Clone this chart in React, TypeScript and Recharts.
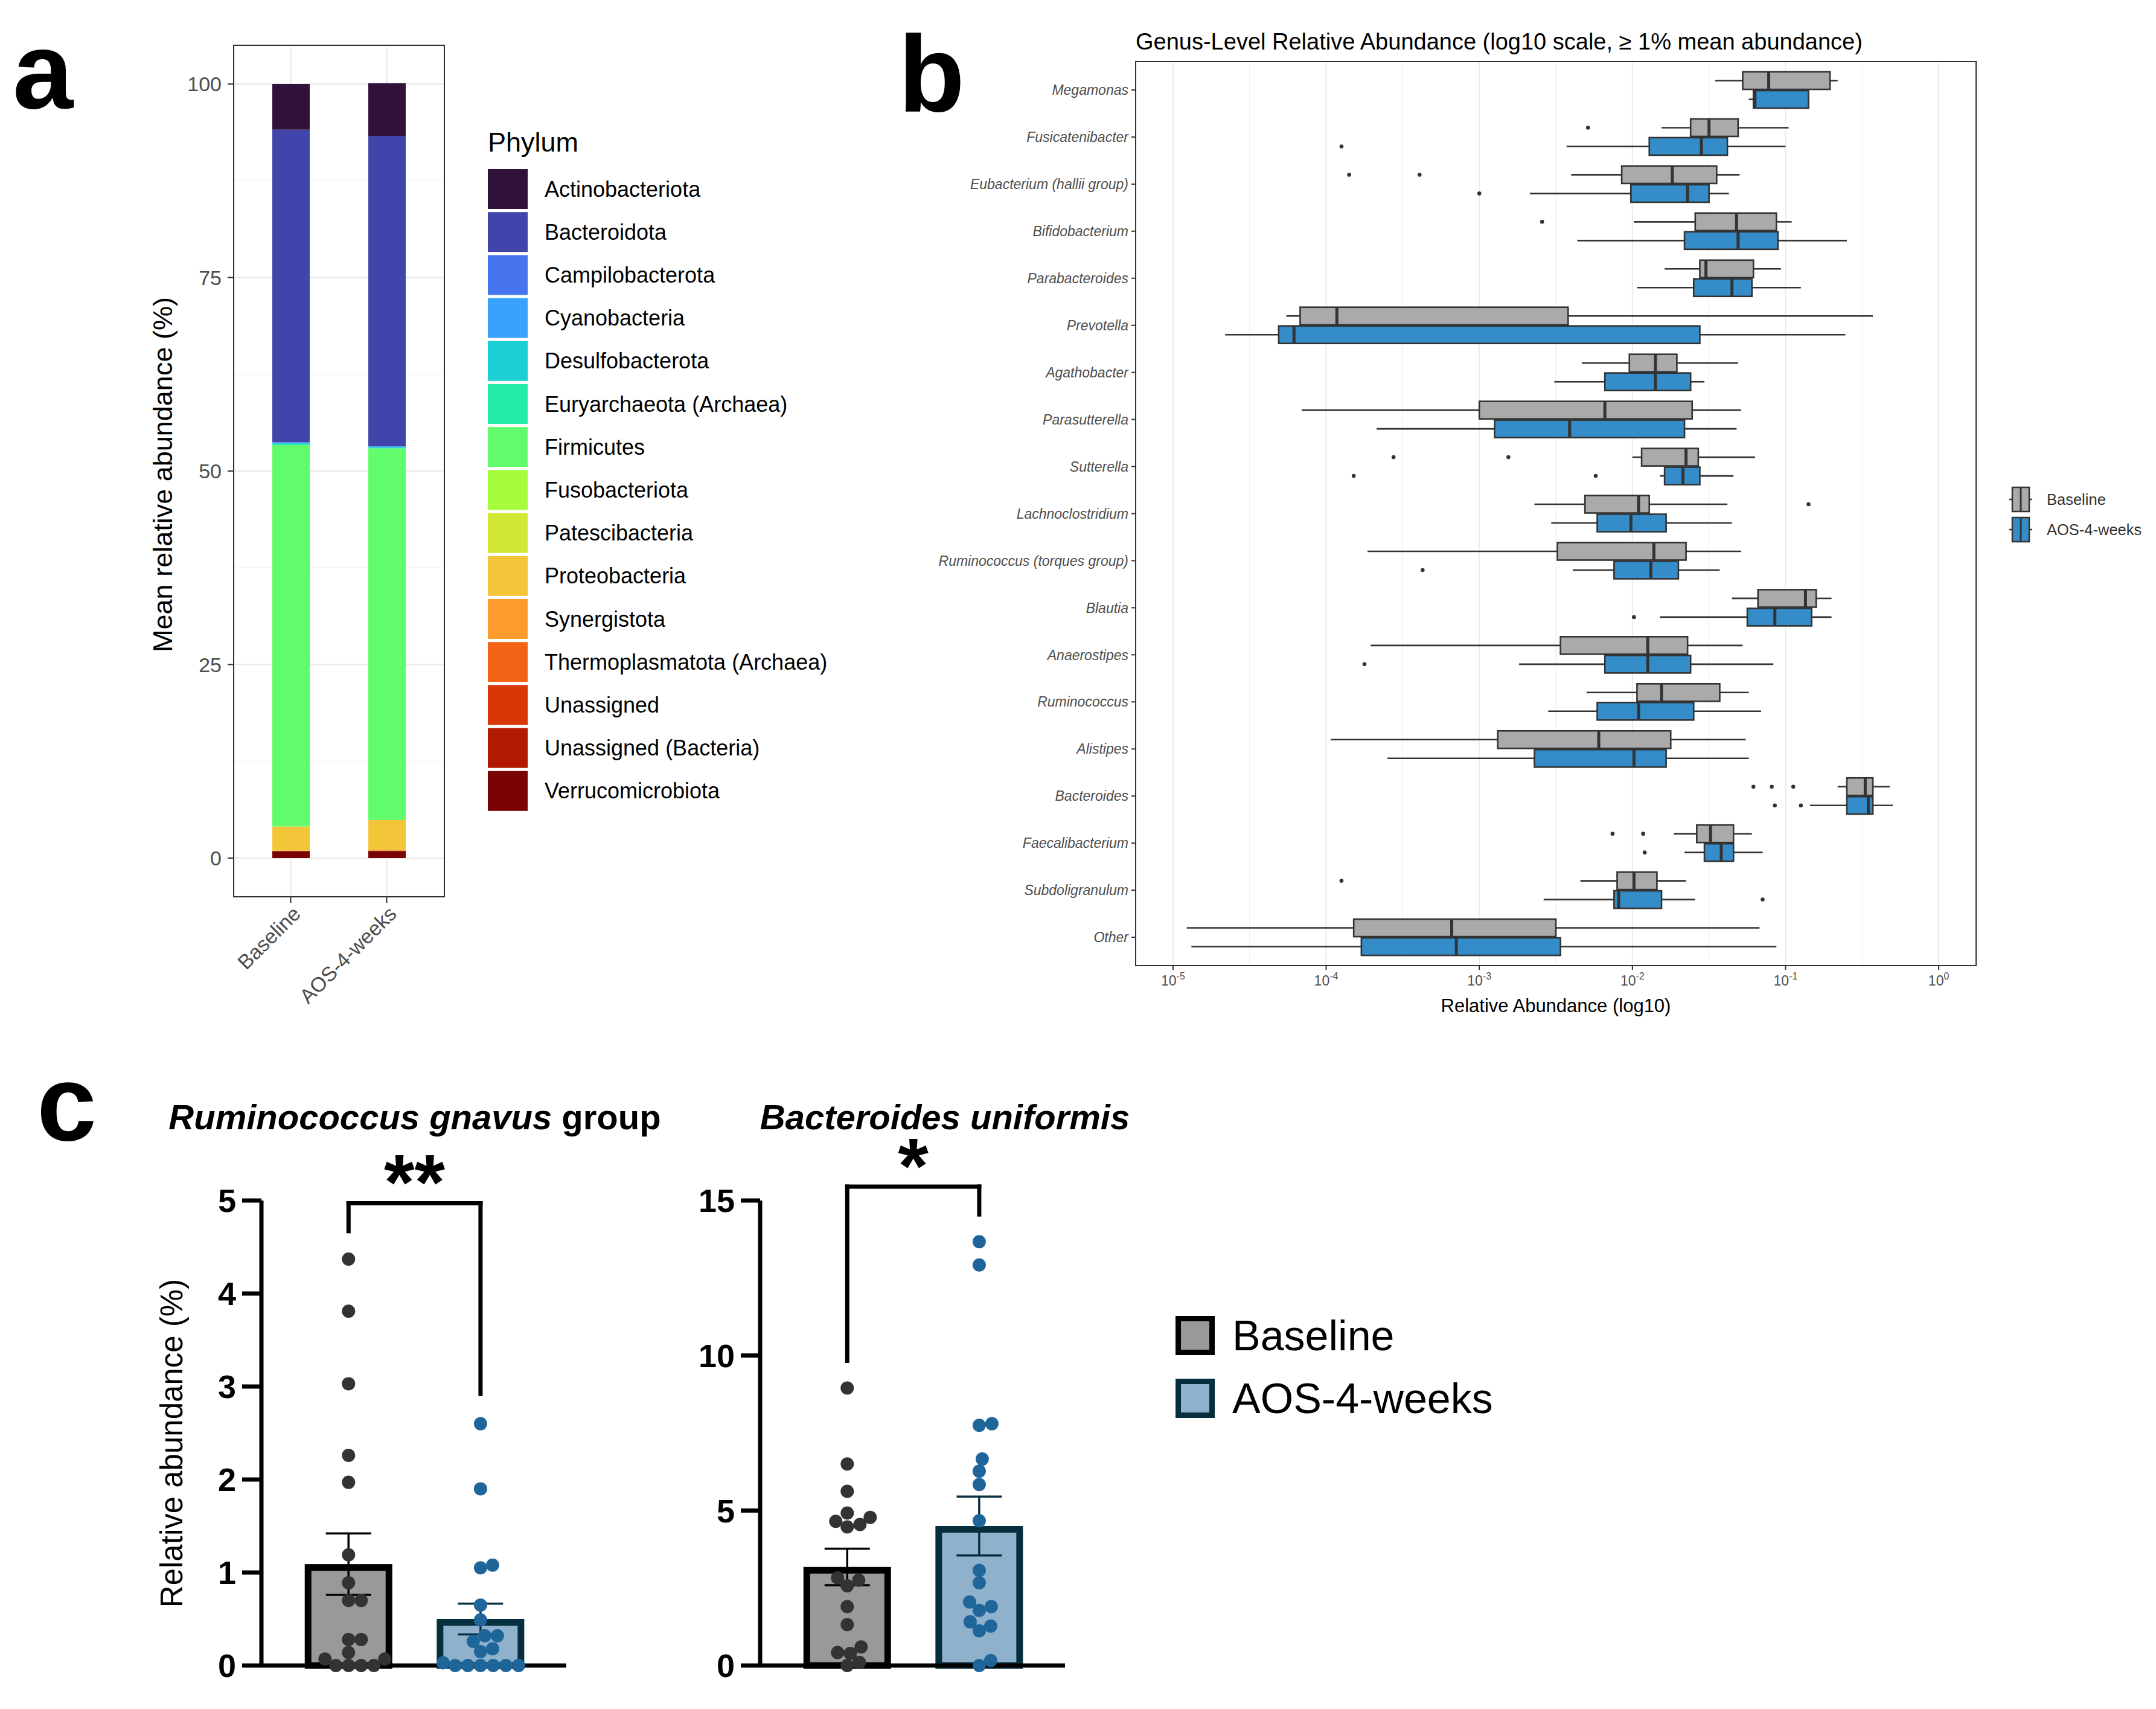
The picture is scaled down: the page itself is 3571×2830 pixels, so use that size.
import React from 'react';
import {
  BarChart,
  Bar,
  ComposedChart,
  Scatter,
  XAxis,
  YAxis,
  CartesianGrid,
  ReferenceLine,
} from 'recharts';

const FONT = '"Liberation Sans", Arial, Helvetica, sans-serif';

// ---------- panel a: mean phylum composition (%) ----------
const groups = ['Baseline', 'AOS-4-weeks'];
const phyla = [
  'Actinobacteriota',
  'Bacteroidota',
  'Campilobacterota',
  'Cyanobacteria',
  'Desulfobacterota',
  'Euryarchaeota (Archaea)',
  'Firmicutes',
  'Fusobacteriota',
  'Patescibacteria',
  'Proteobacteria',
  'Synergistota',
  'Thermoplasmatota (Archaea)',
  'Unassigned',
  'Unassigned (Bacteria)',
  'Verrucomicrobiota',
];
const phylumColors = [
  '#30123b', '#4145ab', '#4675ed', '#39a2fc', '#1bcfd4',
  '#24eca6', '#61fc6c', '#a4fc3b', '#d1e834', '#f3c63a',
  '#fe9b2d', '#f36315', '#d93806', '#b11901', '#7a0403',
];
const baselineShare = [5.9, 40.4, 0.02, 0.05, 0.2, 0.05, 49.3, 0.01, 0.02, 3.1, 0.02, 0.01, 0.02, 0.05, 0.85];
const aosShare = [6.8, 40.1, 0.02, 0.05, 0.15, 0.05, 48.0, 0.01, 0.02, 3.9, 0.02, 0.01, 0.02, 0.05, 0.9];
const shareTicks = [0, 25, 50, 75, 100];
const shareMinor = [12.5, 37.5, 62.5, 87.5];

// ---------- panel b: genus boxplots, log10 relative abundance ----------
const genera = [
  'Megamonas', 'Fusicatenibacter', 'Eubacterium (hallii group)', 'Bifidobacterium',
  'Parabacteroides', 'Prevotella', 'Agathobacter', 'Parasutterella', 'Sutterella',
  'Lachnoclostridium', 'Ruminococcus (torques group)', 'Blautia', 'Anaerostipes',
  'Ruminococcus', 'Alistipes', 'Bacteroides', 'Faecalibacterium', 'Subdoligranulum', 'Other',
];
const baseMin = [-1.46, -1.81, -2.40, -1.99, -1.79, -4.26, -2.33, -4.16, -2.00, -2.64, -3.73, -1.35, -3.71, -2.30, -3.97, -0.66, -1.73, -2.34, -4.91];
const baseQ1 = [-1.28, -1.62, -2.07, -1.59, -1.56, -4.17, -2.02, -3.00, -1.94, -2.31, -2.49, -1.18, -2.47, -1.97, -2.88, -0.60, -1.58, -2.10, -3.82];
const baseMed = [-1.11, -1.50, -1.74, -1.32, -1.52, -3.93, -1.85, -2.18, -1.65, -1.96, -1.86, -0.87, -1.90, -1.81, -2.22, -0.48, -1.49, -1.99, -3.18];
const baseQ3 = [-0.71, -1.31, -1.45, -1.06, -1.21, -2.42, -1.71, -1.61, -1.57, -1.89, -1.65, -0.80, -1.64, -1.43, -1.75, -0.43, -1.34, -1.84, -2.50];
const baseMax = [-0.66, -0.98, -1.30, -0.96, -1.03, -0.43, -1.31, -1.29, -1.20, -1.38, -1.29, -0.70, -1.28, -1.24, -1.26, -0.32, -1.22, -1.65, -1.17];
const baseOut = [[], [-2.29], [-3.85, -3.39], [-2.59], [], [], [], [], [-3.56, -2.81], [-0.85], [], [], [], [], [], [-1.21, -1.09, -0.95], [-2.13, -1.93], [-3.90], []];
const aosMin = [-1.24, -2.43, -2.67, -2.36, -1.97, -4.66, -2.51, -3.67, -1.82, -2.53, -2.39, -1.82, -2.74, -2.55, -3.60, -0.84, -1.66, -2.58, -4.88];
const aosQ1 = [-1.21, -1.89, -2.01, -1.66, -1.60, -4.31, -2.18, -2.90, -1.79, -2.23, -2.12, -1.25, -2.18, -2.23, -2.64, -0.60, -1.53, -2.12, -3.77];
const aosMed = [-1.20, -1.55, -1.64, -1.31, -1.35, -4.21, -1.85, -2.41, -1.67, -2.01, -1.88, -1.07, -1.90, -1.96, -1.99, -0.46, -1.42, -2.09, -3.15];
const aosQ3 = [-0.85, -1.38, -1.50, -1.05, -1.22, -1.56, -1.62, -1.66, -1.56, -1.78, -1.70, -0.83, -1.62, -1.60, -1.78, -0.43, -1.34, -1.81, -2.47];
const aosMax = [-0.85, -1.00, -1.37, -0.60, -0.90, -0.61, -1.53, -1.32, -1.34, -1.35, -1.43, -0.70, -1.08, -1.16, -1.24, -0.30, -1.15, -1.59, -1.06];
const aosOut = [[], [-3.90], [-3.00], [], [], [], [], [], [-3.82, -2.24], [], [-3.37], [-1.99], [-3.75], [], [], [-1.07, -0.90], [-1.92], [-1.15], []];
const decadeTicks = [-5, -4, -3, -2, -1, 0];
const halfDecades = [-4.5, -3.5, -2.5, -1.5, -0.5];

// ---------- panel c: per-subject relative abundance (%) ----------
const gnavusBaseline = [4.37, 3.81, 3.03, 2.26, 1.97, 1.19, 0.89, 0.70, 0.70, 0.28, 0.28, 0.14, 0.07, 0.07, 0, 0, 0, 0];
const gnavusAos = [2.60, 1.90, 1.08, 1.05, 0.65, 0.49, 0.32, 0.32, 0.26, 0.18, 0.15, 0.03, 0, 0, 0, 0, 0, 0];
const gnavusMean = [1.09, 0.50];
const gnavusSem = [0.33, 0.165];
const gnavusBracket = [4.67, 4.97, 2.92];
const uniformisBaseline = [8.95, 6.50, 5.62, 4.92, 4.78, 4.65, 4.55, 4.47, 2.83, 2.75, 2.57, 1.90, 1.32, 0.60, 0.42, 0.39, 0.10, 0];
const uniformisAos = [13.67, 12.92, 7.80, 7.75, 6.66, 6.27, 5.84, 4.67, 3.07, 2.67, 2.05, 1.90, 1.78, 1.41, 1.27, 1.12, 0.16, 0];
const uniformisMean = [3.18, 4.50];
const uniformisSem = [0.59, 0.95];
const uniformisBracket = [9.83, 15.45, 14.55];

const BOX_GREY = '#aaaaaa';
const BOX_BLUE = '#348cc8';
const INK = '#333333';

const groupStyle = [
  { fill: '#999999', edge: '#000000', dot: '#333333' },
  { fill: '#8fb1cb', edge: '#062f3e', dot: '#1e659a' },
];

const shareRows = groups.map((g, gi) => {
  const row: Record<string, any> = { group: g };
  const src = gi === 0 ? baselineShare : aosShare;
  phyla.forEach((p, i) => {
    row[p] = src[i];
  });
  return row;
});

const boxRows = genera.map((genus, i) => ({
  genus,
  base: { min: baseMin[i], q1: baseQ1[i], med: baseMed[i], q3: baseQ3[i], max: baseMax[i], out: baseOut[i] },
  aos: { min: aosMin[i], q1: aosQ1[i], med: aosMed[i], q3: aosQ3[i], max: aosMax[i], out: aosOut[i] },
}));

const SlantTick = ({ x, y, payload }: any) => (
  <text
    x={x}
    y={y}
    dy={26}
    transform={`rotate(-45 ${x} ${y})`}
    textAnchor="end"
    fontSize={34}
    fill="#4d4d4d"
  >
    {payload.value}
  </text>
);

const LogTick = ({ x, y, payload }: any) => (
  <text x={x} y={y + 24} textAnchor="middle" fontSize={23} fill="#4d4d4d">
    10
    <tspan dy={-10} fontSize={16}>
      {payload.value}
    </tspan>
  </text>
);

const makeBoxShape = (key: 'base' | 'aos', fill: string) => (props: any) => {
  const { x, y, width, height, payload } = props;
  const s = payload[key];
  const px = (v: number) => x + ((v - s.min) / (s.max - s.min)) * width;
  const cy = y + height / 2;
  return (
    <g>
      <line x1={px(s.min)} x2={px(s.q1)} y1={cy} y2={cy} stroke={INK} strokeWidth={2.6} />
      <line x1={px(s.q3)} x2={px(s.max)} y1={cy} y2={cy} stroke={INK} strokeWidth={2.6} />
      <rect
        x={px(s.q1)}
        y={y + 1}
        width={px(s.q3) - px(s.q1)}
        height={height - 2}
        fill={fill}
        stroke={INK}
        strokeWidth={2.6}
      />
      <line x1={px(s.med)} x2={px(s.med)} y1={y + 1} y2={y + height - 1} stroke={INK} strokeWidth={5} />
      {s.out.map((v: number, j: number) => (
        <circle key={j} cx={px(v)} cy={cy} r={3.3} fill={INK} />
      ))}
    </g>
  );
};

// simple beeswarm: pixel offsets so dots of diameter d do not overlap
function swarm(values: number[], pxPerUnit: number, d: number) {
  const order = values.map((_, i) => i).sort((a, b) => values[a] - values[b]);
  const placed: { x: number; y: number }[] = [];
  const offsets = new Array(values.length).fill(0);
  order.forEach((i) => {
    const y = values[i] * pxPerUnit;
    let best = 0;
    for (let k = 0; k < 600; k++) {
      const cand = k === 0 ? 0 : (k % 2 ? 1 : -1) * Math.ceil(k / 2);
      if (placed.every((p) => Math.hypot(p.x - cand, p.y - y) >= d)) {
        best = cand;
        break;
      }
    }
    placed.push({ x: best, y });
    offsets[i] = best;
  });
  return offsets;
}

const C_DOMAIN: [number, number] = [0.34, 2.65];
const C_PLOT_W = 505;
const C_PLOT_H = 770;
const C_BAR_W = 145;

const cBarShape = (props: any) => {
  const { x, y, width, height, payload } = props;
  const st = payload.style;
  const bw = 11;
  const unit = height / payload.mean;
  const cx = x + width / 2;
  const left = cx - C_BAR_W / 2;
  const eTop = y - payload.sem * unit;
  const eBot = y + payload.sem * unit;
  const cap = 75;
  return (
    <g>
      <rect
        x={left + bw / 2}
        y={y + bw / 2}
        width={C_BAR_W - bw}
        height={Math.max(height - bw / 2, 0)}
        fill={st.fill}
        stroke={st.edge}
        strokeWidth={bw}
      />
      <line x1={cx} x2={cx} y1={eTop} y2={eBot} stroke={st.edge} strokeWidth={3.5} />
      <line x1={cx - cap / 2} x2={cx + cap / 2} y1={eTop} y2={eTop} stroke={st.edge} strokeWidth={3.5} />
      <line x1={cx - cap / 2} x2={cx + cap / 2} y1={eBot} y2={eBot} stroke={st.edge} strokeWidth={3.5} />
    </g>
  );
};

const dotShape = (color: string) => (p: any) => <circle cx={p.cx} cy={p.cy} r={11} fill={color} />;

function DotBarPanel({ baseVals, aosVals, means, sems, yMax, yTicks, bracket, stars, starOffset }: any) {
  const perY = C_PLOT_H / yMax;
  const perX = C_PLOT_W / (C_DOMAIN[1] - C_DOMAIN[0]);
  const barRows = groups.map((g, i) => ({ x: i + 1, group: g, mean: means[i], sem: sems[i], style: groupStyle[i] }));
  const bOff = swarm(baseVals, perY, 20.5);
  const aOff = swarm(aosVals, perY, 20.5);
  const baseDots = baseVals.map((v: number, i: number) => ({ x: 1 + bOff[i] / perX, v }));
  const aosDots = aosVals.map((v: number, i: number) => ({ x: 2 + aOff[i] / perX, v }));
  const line = { stroke: '#000', strokeWidth: 7, strokeLinecap: 'square' as const, ifOverflow: 'visible' as const };
  return (
    <ComposedChart width={760} height={1070} data={barRows} margin={{ top: 228, right: 72, bottom: 0, left: 0 }}>
      <XAxis
        type="number"
        dataKey="x"
        domain={C_DOMAIN}
        height={72}
        tick={false}
        tickLine={false}
        axisLine={{ stroke: '#000', strokeWidth: 7 }}
      />
      <YAxis
        type="number"
        domain={[0, yMax]}
        ticks={yTicks}
        width={183}
        tickSize={32}
        tickMargin={10}
        tick={{ fontSize: 54, fontWeight: 700, fill: '#000' }}
        tickLine={{ stroke: '#000', strokeWidth: 7 }}
        axisLine={{ stroke: '#000', strokeWidth: 7 }}
      />
      <Bar dataKey="mean" barSize={C_BAR_W} shape={cBarShape} isAnimationActive={false} />
      <Scatter data={baseDots} dataKey="v" shape={dotShape(groupStyle[0].dot)} isAnimationActive={false} />
      <Scatter data={aosDots} dataKey="v" shape={dotShape(groupStyle[1].dot)} isAnimationActive={false} />
      <ReferenceLine segment={[{ x: 1, y: bracket[0] }, { x: 1, y: bracket[1] }]} {...line} />
      <ReferenceLine
        segment={[{ x: 1, y: bracket[1] }, { x: 2, y: bracket[1] }]}
        {...line}
        label={{ value: stars, position: 'top', offset: starOffset, fill: '#000', fontSize: 130, fontWeight: 700 }}
      />
      <ReferenceLine segment={[{ x: 2, y: bracket[1] }, { x: 2, y: bracket[2] }]} {...line} />
    </ComposedChart>
  );
}

export default function App() {
  return (
    <div
      style={{
        position: 'absolute',
        left: 0,
        top: 0,
        width: 3571,
        height: 2830,
        overflow: 'hidden',
        background: '#fff',
        fontFamily: FONT,
      }}
    >
      {/* panel a */}
      <div style={{ position: 'absolute', left: 0, top: 0 }}>
        <BarChart width={760} height={1720} data={shareRows} margin={{ top: 75, right: 24, bottom: 0, left: 0 }}>
          <CartesianGrid stroke="#f2f2f2" strokeWidth={1.4} vertical={false} horizontalValues={shareMinor} />
          <CartesianGrid stroke="#ebebeb" strokeWidth={2.5} />
          <XAxis
            dataKey="group"
            height={235}
            interval={0}
            padding={{ left: 15, right: 16 }}
            tick={<SlantTick />}
            tickSize={10}
            tickMargin={2}
            tickLine={{ stroke: INK, strokeWidth: 2 }}
            axisLine={false}
          />
          <YAxis
            type="number"
            domain={[-5, 105]}
            ticks={shareTicks}
            width={387}
            tickSize={10}
            tickMargin={10}
            tick={{ fontSize: 34, fill: '#4d4d4d' }}
            tickLine={{ stroke: INK, strokeWidth: 2 }}
            axisLine={false}
          />
          {phyla
            .map((p, i) => ({ p, c: phylumColors[i] }))
            .reverse()
            .map(({ p, c }) => (
              <Bar key={p} dataKey={p} stackId="s" fill={c} barSize={62} isAnimationActive={false} />
            ))}
        </BarChart>
      </div>

      {/* panel b */}
      <div style={{ position: 'absolute', left: 1480, top: 0 }}>
        <ComposedChart
          layout="vertical"
          width={2091}
          height={1720}
          data={boxRows}
          barGap={0}
          margin={{ top: 102, right: 298, bottom: 0, left: 0 }}
        >
          <CartesianGrid horizontal={false} stroke="#f0f0f0" strokeWidth={1.4} verticalValues={halfDecades} />
          <CartesianGrid horizontal={false} stroke="#ebebeb" strokeWidth={2} />
          <XAxis
            type="number"
            domain={[-5.244, 0.244]}
            ticks={decadeTicks}
            height={121}
            tick={<LogTick />}
            tickSize={7}
            tickLine={{ stroke: INK, strokeWidth: 2 }}
            axisLine={false}
          />
          <YAxis
            type="category"
            dataKey="genus"
            width={401}
            interval={0}
            padding={{ top: 8, bottom: 8 }}
            tickSize={7}
            tickMargin={5}
            tick={{ fontSize: 23, fontStyle: 'italic', fill: '#4d4d4d' }}
            tickLine={{ stroke: INK, strokeWidth: 2 }}
            axisLine={false}
          />
          <Bar
            dataKey={(d: any) => [d.base.min, d.base.max]}
            name="Baseline"
            barSize={31}
            shape={makeBoxShape('base', BOX_GREY)}
            isAnimationActive={false}
          />
          <Bar
            dataKey={(d: any) => [d.aos.min, d.aos.max]}
            name="AOS-4-weeks"
            barSize={31}
            shape={makeBoxShape('aos', BOX_BLUE)}
            isAnimationActive={false}
          />
        </ComposedChart>
      </div>

      {/* panel c */}
      <div style={{ position: 'absolute', left: 250, top: 1760 }}>
        <DotBarPanel
          baseVals={gnavusBaseline}
          aosVals={gnavusAos}
          means={gnavusMean}
          sems={gnavusSem}
          yMax={5}
          yTicks={[0, 1, 2, 3, 4, 5]}
          bracket={gnavusBracket}
          stars="**"
          starOffset={-10}
        />
      </div>
      <div style={{ position: 'absolute', left: 1076, top: 1760 }}>
        <DotBarPanel
          baseVals={uniformisBaseline}
          aosVals={uniformisAos}
          means={uniformisMean}
          sems={uniformisSem}
          yMax={15}
          yTicks={[0, 5, 10, 15]}
          bracket={uniformisBracket}
          stars="*"
          starOffset={-11}
        />
      </div>

      {/* titles, frames and legends */}
      <svg
        width={3571}
        height={2830}
        style={{ position: 'absolute', left: 0, top: 0, pointerEvents: 'none', fontFamily: FONT }}
      >
        <text x={21} y={179} fontSize={180} fontWeight={700}>a</text>
        <text x={1488} y={185} fontSize={180} fontWeight={700}>b</text>
        <text x={61} y={1888} fontSize={178} fontWeight={700}>c</text>

        {/* a */}
        <rect x={387} y={75} width={349} height={1410} fill="none" stroke={INK} strokeWidth={2} />
        <text x={269} y={786} fontSize={45} textAnchor="middle" dominantBaseline="central" transform="rotate(-90 269 786)">
          Mean relative abundance (%)
        </text>
        <text x={808} y={251} fontSize={45}>Phylum</text>
        {phyla.map((p, i) => (
          <g key={p}>
            <rect x={808} y={280 + i * 71.2} width={66} height={66} fill={phylumColors[i]} />
            <text x={902} y={280 + i * 71.2 + 33 + 12.5} fontSize={36}>{p}</text>
          </g>
        ))}

        {/* b */}
        <text x={1881} y={82} fontSize={38}>
          Genus-Level Relative Abundance (log10 scale, ≥ 1% mean abundance)
        </text>
        <rect x={1881} y={102} width={1392} height={1497} fill="none" stroke={INK} strokeWidth={2} />
        <text x={2577} y={1676} fontSize={31} textAnchor="middle">Relative Abundance (log10)</text>
        {[BOX_GREY, BOX_BLUE].map((c, i) => {
          const cy = 827 + i * 50;
          return (
            <g key={c}>
              <line x1={3328} x2={3366} y1={cy} y2={cy} stroke={INK} strokeWidth={2.5} />
              <rect x={3333} y={cy - 20} width={28} height={40} fill={c} stroke={INK} strokeWidth={2.5} />
              <line x1={3347} x2={3347} y1={cy - 20} y2={cy + 20} stroke={INK} strokeWidth={3} />
              <text x={3390} y={cy + 9} fontSize={25.5} fill={INK}>{groups[i]}</text>
            </g>
          );
        })}

        {/* c */}
        <text x={687} y={1870} fontSize={58} fontWeight={700} textAnchor="middle">
          <tspan fontStyle="italic">Ruminococcus gnavus</tspan> group
        </text>
        <text x={1565} y={1870} fontSize={58} fontWeight={700} fontStyle="italic" textAnchor="middle">
          Bacteroides uniformis
        </text>
        <text x={284} y={2390} fontSize={51} textAnchor="middle" dominantBaseline="central" transform="rotate(-90 284 2390)">
          Relative abundance (%)
        </text>
        {groupStyle.map((st, i) => {
          const top = 2179 + i * 104;
          return (
            <g key={i}>
              <rect x={1951.5} y={top + 4.5} width={56} height={56} fill={st.fill} stroke={st.edge} strokeWidth={9} />
              <text x={2041} y={top + 57} fontSize={70}>{groups[i]}</text>
            </g>
          );
        })}
      </svg>
    </div>
  );
}
